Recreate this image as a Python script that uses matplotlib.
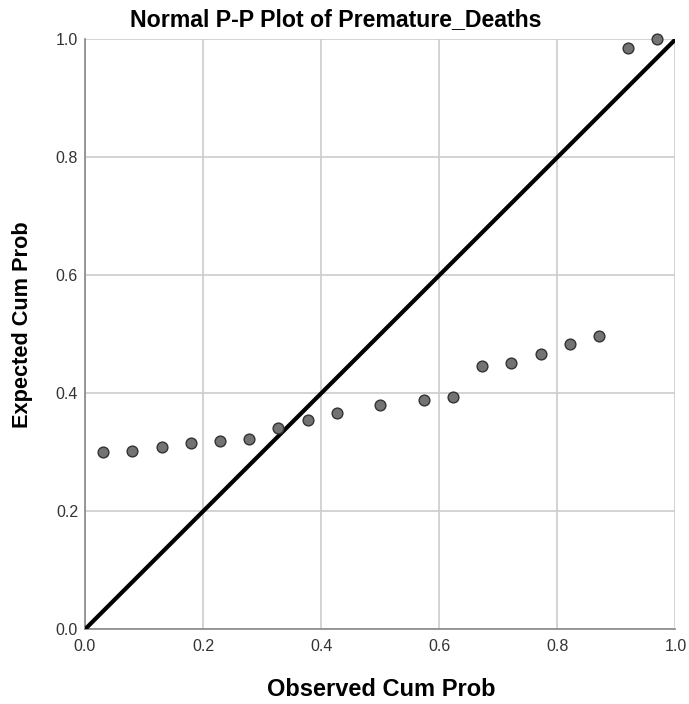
import numpy as np
import matplotlib
matplotlib.use("Agg")
import matplotlib.pyplot as plt

# observed vs expected cumulative probabilities
observed = [0.031, 0.080, 0.130, 0.179, 0.228, 0.278, 0.327, 0.377, 0.426,
            0.500, 0.574, 0.623, 0.673, 0.722, 0.772, 0.821, 0.870, 0.920, 0.969]
expected = [0.300, 0.302, 0.309, 0.316, 0.319, 0.323, 0.341, 0.354, 0.367,
            0.381, 0.389, 0.394, 0.446, 0.451, 0.467, 0.483, 0.497, 0.985, 1.000]
ticks = [0.0, 0.2, 0.4, 0.6, 0.8, 1.0]
tick_labels = ["0.0", "0.2", "0.4", "0.6", "0.8", "1.0"]

plt.rcParams["font.family"] = ["Liberation Sans", "DejaVu Sans"]

W, H = 689, 704
fig = plt.figure(figsize=(W / 100, H / 100), dpi=100)
ax = fig.add_axes([85 / W, 1 - 629.3 / H, 590.5 / W, 590 / H])

ax.set_xlim(0, 1)
ax.set_ylim(0, 1)
ax.set_xticks(ticks)
ax.set_yticks(ticks)
ax.set_xticklabels(tick_labels)
ax.set_yticklabels(tick_labels)
ax.tick_params(length=0, labelsize=11.5, labelcolor="#333333")
ax.tick_params(axis="x", pad=7)
ax.tick_params(axis="y", pad=5)
ax.grid(True, color="#cccccc", linewidth=1.2)
ax.set_axisbelow(True)

for side in ["top", "right"]:
    ax.spines[side].set_visible(False)
for side in ["left", "bottom"]:
    ax.spines[side].set_color("#888888")
    ax.spines[side].set_linewidth(1.2)

# reference line
ax.plot([0, 1], [0, 1], color="black", linewidth=3, solid_capstyle="butt", zorder=3)

ax.scatter(observed, expected, s=60, facecolor="#737373", edgecolor="#333333",
           linewidth=1.0, zorder=4, clip_on=False)

# titles placed in figure pixels
fig.text(336 / W, 1 - 20 / H, "Normal P-P Plot of Premature_Deaths",
         fontsize=16.7, fontweight="bold", ha="center", va="center")
fig.text(381 / W, 1 - 690 / H, "Observed Cum Prob",
         fontsize=17, fontweight="bold", ha="center", va="center")
fig.text(23 / W, 1 - 325 / H, "Expected Cum Prob", rotation=90,
         fontsize=15.7, fontweight="bold", ha="center", va="center")

fig.savefig("out.png", dpi=100)
